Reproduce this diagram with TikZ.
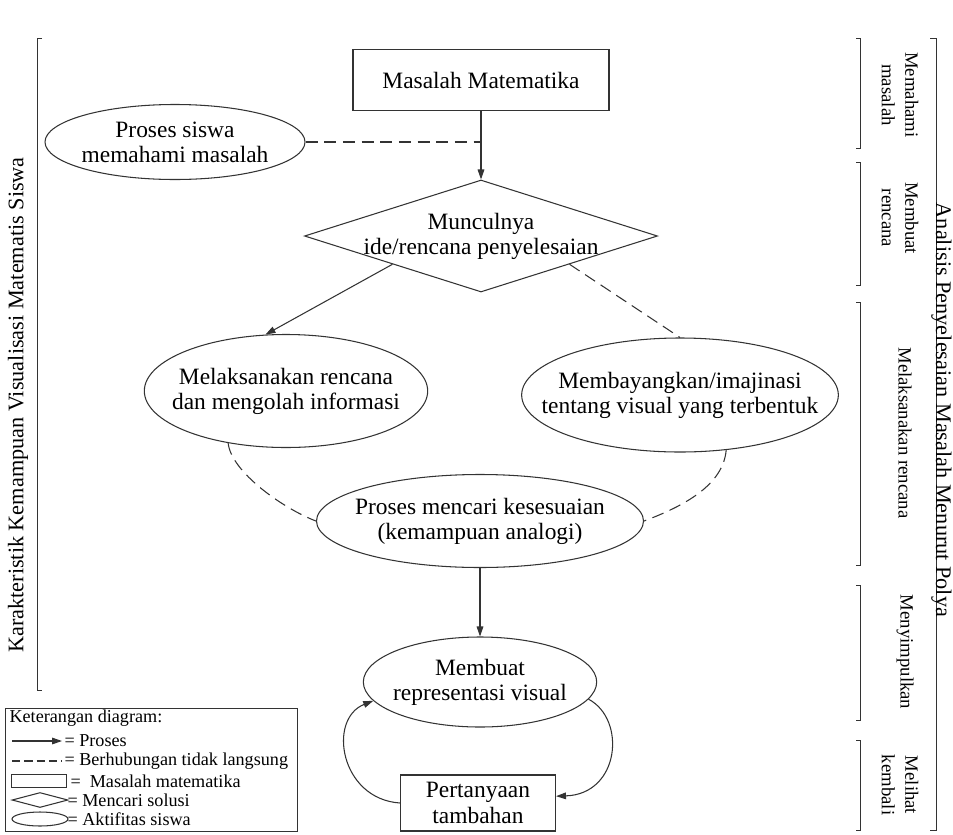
\documentclass[tikz,border=0pt]{standalone}
\usepackage{fontspec}
\setmainfont{Liberation Serif}
\usetikzlibrary{arrows.meta,shapes.geometric,positioning,calc}
\tikzset{
  basic/.style    = {draw, font=\fontsize{20}{21.5}\selectfont, align=center,
                     inner xsep=-2cm, inner ysep=-1cm},
  masalah/.style  = {basic, rectangle, inner sep=0pt},
  solusi/.style   = {basic, diamond, aspect=3},
  aktifitas/.style = {basic, ellipse},
  tahap/.style    = {font=\fontsize{16}{20}\selectfont, align=center, rotate=-90, inner sep=0pt},
  judul/.style    = {font=\fontsize{19}{20}\selectfont, inner sep=0pt},
  keterangan/.style = {font=\fontsize{15.5}{16}\selectfont, anchor=west, inner sep=0pt},
  proses/.style   = {-{Triangle[length=0.3cm,width=0.2cm]}},
  tdklangsung/.style = {dash pattern=on 0.36cm off 0.2cm},
  kurung/.style   = {line width=0.8pt}
}

\begin{document}
\begin{tikzpicture}[x=0.03cm, y=-0.03cm, line width=0.9pt, draw=black!80]

\useasboundingbox (0,0) rectangle (953,834);
\clip (0,0) rectangle (953,834);

% alur utama
\node[masalah, minimum width=7.68cm, minimum height=1.83cm] (masalah) at (481,80) {Masalah Matematika};
\node[aktifitas, minimum width=7.8cm, minimum height=2.25cm] (pahami) at (175,142) {Proses siswa\\memahami masalah};
\node[solusi, minimum width=10.59cm, minimum height=3.36cm] (ide) at (481,236) {Munculnya\\ide/rencana penyelesaian};
\node[aktifitas, minimum width=8.5cm, minimum height=3.39cm] (laksana) at (286,391) {Melaksanakan rencana\\dan mengolah informasi};
\node[aktifitas, minimum width=9.5cm, minimum height=3.42cm] (bayang) at (680,395) {Membayangkan/imajinasi\\tentang visual yang terbentuk};
\node[aktifitas, minimum width=9.81cm, minimum height=2.79cm] (analogi) at (480,521) {Proses mencari kesesuaian\\(kemampuan analogi)};
\node[aktifitas, minimum width=7.0cm, minimum height=2.7cm] (visual) at (480,682) {Membuat\\representasi visual};
\node[masalah, minimum width=4.65cm, minimum height=1.68cm] (tambahan) at (478,803) {Pertanyaan\\tambahan};

\draw[proses] (masalah) -- (ide);
\draw[tdklangsung] (pahami.east) -- (pahami.east -| masalah.south);
\draw[proses] ($(ide.west)!0.5!(ide.south)$) -- (laksana.110);
\draw[tdklangsung] ($(ide.east)!0.5!(ide.south)$) -- (bayang.north);
\draw[tdklangsung] (laksana.222) .. controls +(3,29) and +(-32,-12) .. (analogi.west);
\draw[tdklangsung] (bayang.310) .. controls +(-3,35) and +(40,-15) .. (analogi.east);
\draw[proses] (analogi) -- (visual);
\draw[proses] (tambahan.west) .. controls +(-60,-4) and +(-46,18) .. (visual.190);
\draw[proses] (visual.351) .. controls +(38,20) and +(64,-2) .. (tambahan.5);

% kurung kiri dan kanan
\draw[kurung] (42,38) -- (37,38) -- (37,690) -- (42,690);
\node[judul, rotate=90] (karakteristik) at (18,405) {Karakteristik Kemampuan Visualisasi Matematis Siswa};

\foreach \ya/\yb in {38/148, 162/285, 302/565, 585/720, 740/830}
  \draw[kurung] (856,\ya) -- (860,\ya) -- (860,\yb) -- (856,\yb);
\node[tahap] (memahami) at (900,95) {Memahami\\masalah};
\node[tahap] (membuat) at (900,218) {Membuat\\rencana};
\node[tahap] (melaksanakan) at (905,433) {Melaksanakan rencana};
\node[tahap] (menyimpulkan) at (905,652) {Menyimpulkan};
\node[tahap] (melihat) at (900,785) {Melihat\\kembali};

\draw[kurung] (930,38) -- (936,38) -- (936,830) -- (930,830);
\node[judul, rotate=-90, anchor=north] (polya) at (952,410) {Analisis Penyelesaian Masalah Menurut Polya};

% keterangan diagram
\draw[kurung] (5,708) rectangle (297,831);
\node[keterangan] (ket) at (9,718) {Keterangan diagram:};
\draw[proses] (12,741) -- (62,741);
\node[keterangan] (ket1) at (64,741) {= Proses};
\draw[tdklangsung, dash pattern=on 0.25cm off 0.12cm] (12,761) -- (62,761);
\node[keterangan] (ket2) at (64,761) {= Berhubungan tidak langsung};
\node[draw, minimum width=1.65cm, minimum height=0.4cm, inner sep=0pt] (simbol3) at (39,781) {};
\node[keterangan] (ket3) at (70,781) {=\ \ Masalah matematika};
\node[draw, diamond, minimum width=1.68cm, minimum height=0.45cm, inner sep=0pt] (simbol4) at (40,800) {};
\node[keterangan] (ket4) at (67,800) {= Mencari solusi};
\node[draw, ellipse, minimum width=1.68cm, minimum height=0.42cm, inner sep=0pt] (simbol5) at (40,819) {};
\node[keterangan] (ket5) at (67,819) {= Aktifitas siswa};

\end{tikzpicture}
\end{document}
